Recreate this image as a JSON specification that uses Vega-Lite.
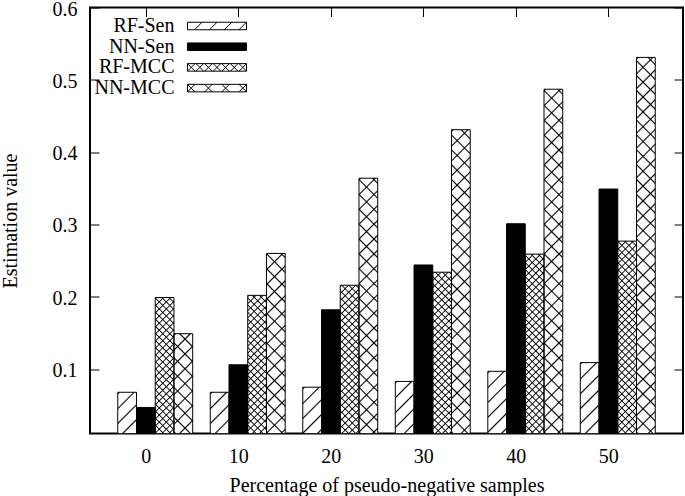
{
  "$schema": "https://vega.github.io/schema/vega-lite/v6.json",
  "width": 593,
  "height": 426,
  "autosize": {"type": "none"},
  "padding": {"left": 90, "top": 7.5, "right": 2, "bottom": 62.5},
  "background": "#ffffff",
  "params": [
    {"name": "stopsSparse", "value": [
      {"offset": 0, "color": "rgba(0,0,0,0)"}, {"offset": 0.00328, "color": "#000"}, {"offset": 0.00656, "color": "rgba(0,0,0,0)"},
      {"offset": 0.03125, "color": "rgba(0,0,0,0)"}, {"offset": 0.03453, "color": "#000"}, {"offset": 0.03781, "color": "rgba(0,0,0,0)"},
      {"offset": 0.0625, "color": "rgba(0,0,0,0)"}, {"offset": 0.06578, "color": "#000"}, {"offset": 0.06906, "color": "rgba(0,0,0,0)"},
      {"offset": 0.09375, "color": "rgba(0,0,0,0)"}, {"offset": 0.09703, "color": "#000"}, {"offset": 0.10031, "color": "rgba(0,0,0,0)"},
      {"offset": 0.125, "color": "rgba(0,0,0,0)"}, {"offset": 0.12828, "color": "#000"}, {"offset": 0.13156, "color": "rgba(0,0,0,0)"},
      {"offset": 0.15625, "color": "rgba(0,0,0,0)"}, {"offset": 0.15953, "color": "#000"}, {"offset": 0.16281, "color": "rgba(0,0,0,0)"},
      {"offset": 0.1875, "color": "rgba(0,0,0,0)"}, {"offset": 0.19078, "color": "#000"}, {"offset": 0.19406, "color": "rgba(0,0,0,0)"},
      {"offset": 0.21875, "color": "rgba(0,0,0,0)"}, {"offset": 0.22203, "color": "#000"}, {"offset": 0.22531, "color": "rgba(0,0,0,0)"},
      {"offset": 0.25, "color": "rgba(0,0,0,0)"}, {"offset": 0.25328, "color": "#000"}, {"offset": 0.25656, "color": "rgba(0,0,0,0)"},
      {"offset": 0.28125, "color": "rgba(0,0,0,0)"}, {"offset": 0.28453, "color": "#000"}, {"offset": 0.28781, "color": "rgba(0,0,0,0)"},
      {"offset": 0.3125, "color": "rgba(0,0,0,0)"}, {"offset": 0.31578, "color": "#000"}, {"offset": 0.31906, "color": "rgba(0,0,0,0)"},
      {"offset": 0.34375, "color": "rgba(0,0,0,0)"}, {"offset": 0.34703, "color": "#000"}, {"offset": 0.35031, "color": "rgba(0,0,0,0)"},
      {"offset": 0.375, "color": "rgba(0,0,0,0)"}, {"offset": 0.37828, "color": "#000"}, {"offset": 0.38156, "color": "rgba(0,0,0,0)"},
      {"offset": 0.40625, "color": "rgba(0,0,0,0)"}, {"offset": 0.40953, "color": "#000"}, {"offset": 0.41281, "color": "rgba(0,0,0,0)"},
      {"offset": 0.4375, "color": "rgba(0,0,0,0)"}, {"offset": 0.44078, "color": "#000"}, {"offset": 0.44406, "color": "rgba(0,0,0,0)"},
      {"offset": 0.46875, "color": "rgba(0,0,0,0)"}, {"offset": 0.47203, "color": "#000"}, {"offset": 0.47531, "color": "rgba(0,0,0,0)"},
      {"offset": 0.5, "color": "rgba(0,0,0,0)"}, {"offset": 0.50328, "color": "#000"}, {"offset": 0.50656, "color": "rgba(0,0,0,0)"},
      {"offset": 0.53125, "color": "rgba(0,0,0,0)"}, {"offset": 0.53453, "color": "#000"}, {"offset": 0.53781, "color": "rgba(0,0,0,0)"},
      {"offset": 0.5625, "color": "rgba(0,0,0,0)"}, {"offset": 0.56578, "color": "#000"}, {"offset": 0.56906, "color": "rgba(0,0,0,0)"},
      {"offset": 0.59375, "color": "rgba(0,0,0,0)"}, {"offset": 0.59703, "color": "#000"}, {"offset": 0.60031, "color": "rgba(0,0,0,0)"},
      {"offset": 0.625, "color": "rgba(0,0,0,0)"}, {"offset": 0.62828, "color": "#000"}, {"offset": 0.63156, "color": "rgba(0,0,0,0)"},
      {"offset": 0.65625, "color": "rgba(0,0,0,0)"}, {"offset": 0.65953, "color": "#000"}, {"offset": 0.66281, "color": "rgba(0,0,0,0)"},
      {"offset": 0.6875, "color": "rgba(0,0,0,0)"}, {"offset": 0.69078, "color": "#000"}, {"offset": 0.69406, "color": "rgba(0,0,0,0)"},
      {"offset": 0.71875, "color": "rgba(0,0,0,0)"}, {"offset": 0.72203, "color": "#000"}, {"offset": 0.72531, "color": "rgba(0,0,0,0)"},
      {"offset": 0.75, "color": "rgba(0,0,0,0)"}, {"offset": 0.75328, "color": "#000"}, {"offset": 0.75656, "color": "rgba(0,0,0,0)"},
      {"offset": 0.78125, "color": "rgba(0,0,0,0)"}, {"offset": 0.78453, "color": "#000"}, {"offset": 0.78781, "color": "rgba(0,0,0,0)"},
      {"offset": 0.8125, "color": "rgba(0,0,0,0)"}, {"offset": 0.81578, "color": "#000"}, {"offset": 0.81906, "color": "rgba(0,0,0,0)"},
      {"offset": 0.84375, "color": "rgba(0,0,0,0)"}, {"offset": 0.84703, "color": "#000"}, {"offset": 0.85031, "color": "rgba(0,0,0,0)"},
      {"offset": 0.875, "color": "rgba(0,0,0,0)"}, {"offset": 0.87828, "color": "#000"}, {"offset": 0.88156, "color": "rgba(0,0,0,0)"},
      {"offset": 0.90625, "color": "rgba(0,0,0,0)"}, {"offset": 0.90953, "color": "#000"}, {"offset": 0.91281, "color": "rgba(0,0,0,0)"},
      {"offset": 0.9375, "color": "rgba(0,0,0,0)"}, {"offset": 0.94078, "color": "#000"}, {"offset": 0.94406, "color": "rgba(0,0,0,0)"},
      {"offset": 0.96875, "color": "rgba(0,0,0,0)"}, {"offset": 0.97203, "color": "#000"}, {"offset": 0.97531, "color": "rgba(0,0,0,0)"}
    ]},
    {"name": "stopsDense", "value": [
      {"offset": 0, "color": "rgba(0,0,0,0)"}, {"offset": 0.005625, "color": "#000"}, {"offset": 0.01125, "color": "rgba(0,0,0,0)"},
      {"offset": 0.03125, "color": "rgba(0,0,0,0)"}, {"offset": 0.036875, "color": "#000"}, {"offset": 0.0425, "color": "rgba(0,0,0,0)"},
      {"offset": 0.0625, "color": "rgba(0,0,0,0)"}, {"offset": 0.068125, "color": "#000"}, {"offset": 0.07375, "color": "rgba(0,0,0,0)"},
      {"offset": 0.09375, "color": "rgba(0,0,0,0)"}, {"offset": 0.099375, "color": "#000"}, {"offset": 0.105, "color": "rgba(0,0,0,0)"},
      {"offset": 0.125, "color": "rgba(0,0,0,0)"}, {"offset": 0.130625, "color": "#000"}, {"offset": 0.13625, "color": "rgba(0,0,0,0)"},
      {"offset": 0.15625, "color": "rgba(0,0,0,0)"}, {"offset": 0.161875, "color": "#000"}, {"offset": 0.1675, "color": "rgba(0,0,0,0)"},
      {"offset": 0.1875, "color": "rgba(0,0,0,0)"}, {"offset": 0.193125, "color": "#000"}, {"offset": 0.19875, "color": "rgba(0,0,0,0)"},
      {"offset": 0.21875, "color": "rgba(0,0,0,0)"}, {"offset": 0.224375, "color": "#000"}, {"offset": 0.23, "color": "rgba(0,0,0,0)"},
      {"offset": 0.25, "color": "rgba(0,0,0,0)"}, {"offset": 0.255625, "color": "#000"}, {"offset": 0.26125, "color": "rgba(0,0,0,0)"},
      {"offset": 0.28125, "color": "rgba(0,0,0,0)"}, {"offset": 0.286875, "color": "#000"}, {"offset": 0.2925, "color": "rgba(0,0,0,0)"},
      {"offset": 0.3125, "color": "rgba(0,0,0,0)"}, {"offset": 0.318125, "color": "#000"}, {"offset": 0.32375, "color": "rgba(0,0,0,0)"},
      {"offset": 0.34375, "color": "rgba(0,0,0,0)"}, {"offset": 0.349375, "color": "#000"}, {"offset": 0.355, "color": "rgba(0,0,0,0)"},
      {"offset": 0.375, "color": "rgba(0,0,0,0)"}, {"offset": 0.380625, "color": "#000"}, {"offset": 0.38625, "color": "rgba(0,0,0,0)"},
      {"offset": 0.40625, "color": "rgba(0,0,0,0)"}, {"offset": 0.411875, "color": "#000"}, {"offset": 0.4175, "color": "rgba(0,0,0,0)"},
      {"offset": 0.4375, "color": "rgba(0,0,0,0)"}, {"offset": 0.443125, "color": "#000"}, {"offset": 0.44875, "color": "rgba(0,0,0,0)"},
      {"offset": 0.46875, "color": "rgba(0,0,0,0)"}, {"offset": 0.474375, "color": "#000"}, {"offset": 0.48, "color": "rgba(0,0,0,0)"},
      {"offset": 0.5, "color": "rgba(0,0,0,0)"}, {"offset": 0.505625, "color": "#000"}, {"offset": 0.51125, "color": "rgba(0,0,0,0)"},
      {"offset": 0.53125, "color": "rgba(0,0,0,0)"}, {"offset": 0.536875, "color": "#000"}, {"offset": 0.5425, "color": "rgba(0,0,0,0)"},
      {"offset": 0.5625, "color": "rgba(0,0,0,0)"}, {"offset": 0.568125, "color": "#000"}, {"offset": 0.57375, "color": "rgba(0,0,0,0)"},
      {"offset": 0.59375, "color": "rgba(0,0,0,0)"}, {"offset": 0.599375, "color": "#000"}, {"offset": 0.605, "color": "rgba(0,0,0,0)"},
      {"offset": 0.625, "color": "rgba(0,0,0,0)"}, {"offset": 0.630625, "color": "#000"}, {"offset": 0.63625, "color": "rgba(0,0,0,0)"},
      {"offset": 0.65625, "color": "rgba(0,0,0,0)"}, {"offset": 0.661875, "color": "#000"}, {"offset": 0.6675, "color": "rgba(0,0,0,0)"},
      {"offset": 0.6875, "color": "rgba(0,0,0,0)"}, {"offset": 0.693125, "color": "#000"}, {"offset": 0.69875, "color": "rgba(0,0,0,0)"},
      {"offset": 0.71875, "color": "rgba(0,0,0,0)"}, {"offset": 0.724375, "color": "#000"}, {"offset": 0.73, "color": "rgba(0,0,0,0)"},
      {"offset": 0.75, "color": "rgba(0,0,0,0)"}, {"offset": 0.755625, "color": "#000"}, {"offset": 0.76125, "color": "rgba(0,0,0,0)"},
      {"offset": 0.78125, "color": "rgba(0,0,0,0)"}, {"offset": 0.786875, "color": "#000"}, {"offset": 0.7925, "color": "rgba(0,0,0,0)"},
      {"offset": 0.8125, "color": "rgba(0,0,0,0)"}, {"offset": 0.818125, "color": "#000"}, {"offset": 0.82375, "color": "rgba(0,0,0,0)"},
      {"offset": 0.84375, "color": "rgba(0,0,0,0)"}, {"offset": 0.849375, "color": "#000"}, {"offset": 0.855, "color": "rgba(0,0,0,0)"},
      {"offset": 0.875, "color": "rgba(0,0,0,0)"}, {"offset": 0.880625, "color": "#000"}, {"offset": 0.88625, "color": "rgba(0,0,0,0)"},
      {"offset": 0.90625, "color": "rgba(0,0,0,0)"}, {"offset": 0.911875, "color": "#000"}, {"offset": 0.9175, "color": "rgba(0,0,0,0)"},
      {"offset": 0.9375, "color": "rgba(0,0,0,0)"}, {"offset": 0.943125, "color": "#000"}, {"offset": 0.94875, "color": "rgba(0,0,0,0)"},
      {"offset": 0.96875, "color": "rgba(0,0,0,0)"}, {"offset": 0.974375, "color": "#000"}, {"offset": 0.98, "color": "rgba(0,0,0,0)"}
    ]}
  ],
  "data": {"values": [
    {"pct": "0", "series": "RF-Sen", "value": 0.068},
    {"pct": "0", "series": "NN-Sen", "value": 0.047},
    {"pct": "0", "series": "RF-MCC", "value": 0.199},
    {"pct": "0", "series": "NN-MCC", "value": 0.149},
    {"pct": "10", "series": "RF-Sen", "value": 0.068},
    {"pct": "10", "series": "NN-Sen", "value": 0.106},
    {"pct": "10", "series": "RF-MCC", "value": 0.202},
    {"pct": "10", "series": "NN-MCC", "value": 0.26},
    {"pct": "20", "series": "RF-Sen", "value": 0.075},
    {"pct": "20", "series": "NN-Sen", "value": 0.182},
    {"pct": "20", "series": "RF-MCC", "value": 0.216},
    {"pct": "20", "series": "NN-MCC", "value": 0.364},
    {"pct": "30", "series": "RF-Sen", "value": 0.083},
    {"pct": "30", "series": "NN-Sen", "value": 0.244},
    {"pct": "30", "series": "RF-MCC", "value": 0.234},
    {"pct": "30", "series": "NN-MCC", "value": 0.431},
    {"pct": "40", "series": "RF-Sen", "value": 0.097},
    {"pct": "40", "series": "NN-Sen", "value": 0.301},
    {"pct": "40", "series": "RF-MCC", "value": 0.259},
    {"pct": "40", "series": "NN-MCC", "value": 0.487},
    {"pct": "50", "series": "RF-Sen", "value": 0.109},
    {"pct": "50", "series": "NN-Sen", "value": 0.349},
    {"pct": "50", "series": "RF-MCC", "value": 0.277},
    {"pct": "50", "series": "NN-MCC", "value": 0.531}
  ]},
  "encoding": {
    "x": {"field": "pct", "type": "nominal", "sort": ["0", "10", "20", "30", "40", "50"], "scale": {"paddingInner": 0.19, "paddingOuter": 0.3}, "axis": null},
    "xOffset": {"field": "series", "type": "nominal", "sort": ["RF-Sen", "NN-Sen", "RF-MCC", "NN-MCC"], "scale": {"paddingInner": 0, "paddingOuter": 0}},
    "y": {"field": "value", "type": "quantitative", "stack": null, "scale": {"domain": [0.011, 0.6], "clamp": true, "zero": false, "nice": false}, "axis": null}
  },
  "layer": [
    {
      "mark": {"type": "bar", "clip": true, "stroke": null},
      "encoding": {
        "x": {"field": "pct", "type": "nominal", "sort": ["0", "10", "20", "30", "40", "50"], "scale": {"paddingInner": 0.19, "paddingOuter": 0.3},
          "axis": {"orient": "bottom", "title": "Percentage of pseudo-negative samples", "labelAngle": 0, "tickOffset": -9.5, "tickSize": -9, "labelPadding": 21.7, "titlePadding": 9, "ticks": true}},
        "y": {"field": "value", "type": "quantitative", "stack": null, "scale": {"domain": [0.011, 0.6], "clamp": true, "zero": false, "nice": false},
          "axis": {"orient": "left", "title": "Estimation value", "values": [0.1, 0.2, 0.3, 0.4, 0.5, 0.6], "format": ".1f", "tickSize": -9, "labelPadding": 22, "labelOffset": 1.5, "titlePadding": 32}},
        "fill": {"field": "series", "type": "nominal", "sort": ["RF-Sen", "NN-Sen", "RF-MCC", "NN-MCC"],
          "scale": {"domain": ["RF-Sen", "NN-Sen", "RF-MCC", "NN-MCC"], "range": ["#ffffff", "#000000", "#ffffff", "#ffffff"]},
          "legend": {
            "title": null, "orient": "none", "legendX": 117, "legendY": 8.5, "padding": 0,
            "symbolSize": 256, "symbolStrokeColor": "#000", "symbolStrokeWidth": 1, "symbolOpacity": 1,
            "labelAlign": "right", "labelOffset": -52.5, "rowPadding": 0.7,
            "encode": {"symbols": {"update": {
              "shape": {"signal": "datum.value === 'RF-Sen' ? 'M-3.69,-0.47H3.69V0.47H-3.69ZM-2.81,0.47L-1.87,-0.47M-0.94,0.47L0,-0.47M0.91,0.47L1.85,-0.47M2.74,0.47L3.68,-0.47' : datum.value === 'NN-Sen' ? 'M-3.69,-0.47H3.69V0.47H-3.69Z' : datum.value === 'RF-MCC' ? 'M-3.69,-0.47H3.69V0.47H-3.69ZM-3.69,0.47L-2.75,-0.47M-3.69,-0.47L-2.75,0.47M-2.62,0.47L-1.68,-0.47M-2.62,-0.47L-1.68,0.47M-1.54,0.47L-0.6,-0.47M-1.54,-0.47L-0.6,0.47M-0.47,0.47L0.47,-0.47M-0.47,-0.47L0.47,0.47M0.6,0.47L1.54,-0.47M0.6,-0.47L1.54,0.47M1.68,0.47L2.62,-0.47M1.68,-0.47L2.62,0.47M2.75,0.47L3.69,-0.47M2.75,-0.47L3.69,0.47' : 'M-3.69,-0.47H3.69V0.47H-3.69ZM-3.69,0.47L-2.75,-0.47M-3.69,-0.47L-2.75,0.47M-1.54,0.47L-0.6,-0.47M-1.54,-0.47L-0.6,0.47M0.6,0.47L1.54,-0.47M0.6,-0.47L1.54,0.47M2.75,0.47L3.69,-0.47M2.75,-0.47L3.69,0.47'"},
              "stroke": {"value": "#000"}
            }}}
          }
        }
      }
    },
    {
      "mark": {"type": "bar", "clip": true, "stroke": null,
        "fill": {"expr": "datum.series === 'NN-Sen' ? 'transparent' : {gradient: 'linear', x1: 0, y1: 0, x2: (datum.series === 'RF-MCC' ? 5 : 10.5) * 45.25 * bandwidth('xOffset') / (pow(bandwidth('xOffset'), 2) + pow(height - scale('y', datum.value), 2)), y2: (datum.series === 'RF-MCC' ? 5 : 10.5) * 45.25 * (height - scale('y', datum.value)) / (pow(bandwidth('xOffset'), 2) + pow(height - scale('y', datum.value), 2)), stops: datum.series === 'RF-MCC' ? stopsDense : stopsSparse}"}}
    },
    {
      "mark": {"type": "bar", "clip": true, "stroke": null,
        "fill": {"expr": "(datum.series === 'RF-MCC' || datum.series === 'NN-MCC') ? {gradient: 'linear', x1: 0, y1: 1, x2: (datum.series === 'RF-MCC' ? 5 : 10.5) * 45.25 * bandwidth('xOffset') / (pow(bandwidth('xOffset'), 2) + pow(height - scale('y', datum.value), 2)), y2: 1 - (datum.series === 'RF-MCC' ? 5 : 10.5) * 45.25 * (height - scale('y', datum.value)) / (pow(bandwidth('xOffset'), 2) + pow(height - scale('y', datum.value), 2)), stops: datum.series === 'RF-MCC' ? stopsDense : stopsSparse} : 'transparent'"}}
    },
    {
      "mark": {"type": "bar", "clip": true, "fillOpacity": 0, "stroke": "#000", "strokeWidth": 1},
      "encoding": {
        "x": {"field": "pct", "type": "nominal", "sort": ["0", "10", "20", "30", "40", "50"], "scale": {"paddingInner": 0.19, "paddingOuter": 0.3},
          "axis": {"orient": "top", "title": null, "labels": false, "tickOffset": -9.5, "tickSize": -9, "ticks": true}},
        "y": {"field": "value", "type": "quantitative", "stack": null, "scale": {"domain": [0.011, 0.6], "clamp": true, "zero": false, "nice": false},
          "axis": {"orient": "right", "title": null, "labels": false, "values": [0.1, 0.2, 0.3, 0.4, 0.5, 0.6], "tickSize": -9}}
      }
    }
  ],
  "resolve": {"axis": {"x": "independent", "y": "independent"}},
  "config": {
    "font": "Liberation Serif",
    "view": {"stroke": "#000", "strokeWidth": 2},
    "axis": {"labelFont": "Liberation Serif", "titleFont": "Liberation Serif", "labelFontSize": 20, "titleFontSize": 20, "titleFontWeight": "normal", "labelColor": "#000", "titleColor": "#000", "tickColor": "#000", "tickWidth": 1, "grid": false, "domain": false},
    "legend": {"labelFont": "Liberation Serif", "labelFontSize": 20, "labelColor": "#000"}
  }
}
